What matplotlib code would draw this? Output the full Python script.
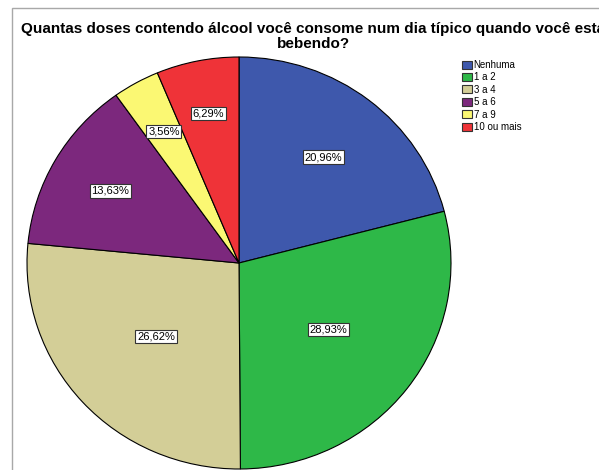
import numpy as np
import matplotlib
matplotlib.use("Agg")
import matplotlib.pyplot as plt
from matplotlib.patches import Patch, Rectangle

# data
categories = ["Nenhuma", "1 a 2", "3 a 4", "5 a 6", "7 a 9", "10 ou mais"]
percents = [20.96, 28.93, 26.62, 13.63, 3.56, 6.29]
title = "Quantas doses contendo álcool você consome num dia típico quando você está\nbebendo?"

# style
colors = ["#3E58AC", "#2EB848", "#D3CE97", "#7C287D", "#FBF873", "#EF3338"]
label_r = [0.65, 0.53, 0.53, 0.70, 0.73, 0.74]

plt.rcParams["font.family"] = ["Liberation Sans", "DejaVu Sans"]

fig = plt.figure(figsize=(5.99, 4.70), dpi=100)

# light frame around the chart area
fig.patches.append(Rectangle((12 / 599, -0.1), 1.2, 1 - 8 / 470 + 0.1,
                             transform=fig.transFigure, fill=False,
                             edgecolor="#a8a8a8", linewidth=1.0))

# title runs past the right edge in the original too
fig.text(313 / 599, 1 - 22 / 470, title, ha="center", va="top",
         fontsize=11, fontweight="bold", linespacing=1.05)

ax = fig.add_axes([27 / 599, 1 - 469 / 470, 424 / 599, 412 / 470])
wedges, _ = ax.pie(percents, colors=colors, startangle=90, counterclock=False,
                   wedgeprops=dict(edgecolor="black", linewidth=0.8))
ax.set_aspect("auto")
ax.set_xlim(-1, 1)
ax.set_ylim(-1, 1)
ax.axis("off")

for w, p, r in zip(wedges, percents, label_r):
    mid = np.deg2rad((w.theta1 + w.theta2) / 2)
    ax.text(r * np.cos(mid), r * np.sin(mid), f"{p:.2f}%".replace(".", ","),
            ha="center", va="center", fontsize=8,
            bbox=dict(boxstyle="square,pad=0.15", facecolor="white",
                      edgecolor="#333333", linewidth=0.8))

handles = [Patch(facecolor=c, edgecolor="#333333", linewidth=0.8) for c in colors]
fig.legend(handles, categories, loc="upper left",
           bbox_to_anchor=(458 / 599, 1 - 56 / 470), frameon=False,
           fontsize=7, handlelength=1.0, handleheight=0.9,
           handletextpad=0.2, labelspacing=0.25, borderaxespad=0)

fig.savefig("out.png", dpi=100)
